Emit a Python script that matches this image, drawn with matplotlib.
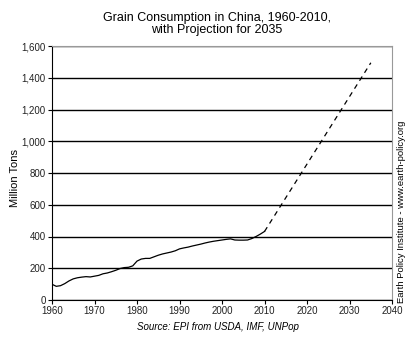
import matplotlib
matplotlib.use("Agg")
import matplotlib.pyplot as plt
from matplotlib.ticker import FuncFormatter

plt.rcParams['font.family'] = ['Liberation Sans', 'DejaVu Sans']

# historical consumption, million tons
years = [1960, 1961, 1962, 1963, 1964, 1965, 1966, 1967, 1968, 1969,
         1970, 1971, 1972, 1973, 1974, 1975, 1976, 1977, 1978, 1979,
         1980, 1981, 1982, 1983, 1984, 1985, 1986, 1987, 1988, 1989,
         1990, 1991, 1992, 1993, 1994, 1995, 1996, 1997, 1998, 1999,
         2000, 2001, 2002, 2003, 2004, 2005, 2006, 2007, 2008, 2009, 2010]
grain = [99, 86, 90, 103, 120, 133, 140, 144, 147, 145,
         150, 155, 165, 170, 178, 187, 198, 204, 206, 215,
         245, 258, 262, 262, 272, 282, 290, 296, 302, 310,
         322, 328, 333, 340, 346, 352, 359, 365, 370, 374,
         378, 382, 385, 378, 377, 377, 378, 387, 400, 415, 432]

# projection
proj_years = [2010, 2035]
proj_grain = [432, 1495]

fig = plt.figure(figsize=(4.11, 3.44), dpi=100)
ax = fig.add_axes([0.1265, 0.128, 0.8275, 0.738])

ax.plot(years, grain, color='black', lw=0.9)
ax.plot(proj_years, proj_grain, color='black', lw=0.9, ls=(0, (4, 3.5)))

ax.set_xlim(1960, 2040)
ax.set_ylim(0, 1600)
ax.set_xticks(range(1960, 2041, 10))
ax.set_yticks(range(0, 1601, 200))
ax.yaxis.set_major_formatter(FuncFormatter(lambda v, p: f"{int(v):,}"))
ax.grid(axis='y', color='black', lw=1)
ax.set_axisbelow(True)
ax.tick_params(labelsize=7, length=3, width=0.8, pad=1.5, labelcolor='#222222')

for s in ['top', 'right']:
    ax.spines[s].set_color('#999999')
    ax.spines[s].set_linewidth(0.8)

ax.set_ylabel('Million Tons', fontsize=8, labelpad=2)
ax.yaxis.set_label_coords(-0.095, 0.48)
fig.text(0.528, 0.965, 'Grain Consumption in China, 1960-2010,\nwith Projection for 2035',
         ha='center', va='top', fontsize=9, linespacing=1.05)
fig.text(0.53, 0.05, 'Source: EPI from USDA, IMF, UNPop', ha='center', va='center',
         fontsize=7, style='italic')
fig.text(0.978, 0.385, 'Earth Policy Institute - www.earth-policy.org', rotation=90,
         ha='center', va='center', fontsize=6.8)

fig.savefig('out.png', dpi=100)
